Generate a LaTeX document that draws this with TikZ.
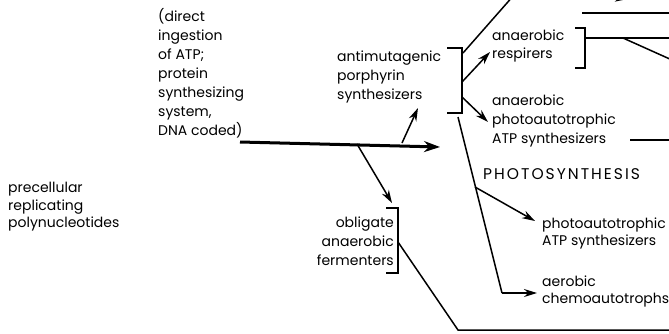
\documentclass[tikz,border=0pt]{standalone}
\usepackage{fontspec}
\setmainfont{Poppins}
\newfontfamily\capsfont[LetterSpace=13]{Poppins}
\usetikzlibrary{arrows.meta}
\tikzset{
  lbl/.style={inner sep=0pt, font=\fontsize{14}{19}\selectfont, align=left},
  lbltight/.style={lbl, font=\fontsize{14}{17.5}\selectfont},
  thin/.style={line width=1.5pt},
  bracketline/.style={line width=1.5pt},
  arr/.style={line width=1.5pt, -{Stealth[length=13pt,width=8pt]}},
  thickarr/.style={line width=3pt, -{Stealth[length=16pt,width=11pt]}},
}
\begin{document}
\begin{tikzpicture}[x=1pt,y=-1pt]
\useasboundingbox (0,0) rectangle (669,333);
\clip (0,0) rectangle (669,333);
% labels
\node[lbl, anchor=west] (ingest) at (158,73) {(direct\\ingestion\\of ATP;\\protein\\synthesizing\\system,\\DNA coded)};
\node[lbltight, anchor=west] (precell) at (8,207) {precellular\\replicating\\polynucleotides};
\node[lbl, anchor=west] (antimut) at (337,77) {antimutagenic\\porphyrin\\synthesizers};
\node[lbl, anchor=west, font=\fontsize{14}{18}\selectfont] (resp) at (492,46) {anaerobic\\respirers};
\node[lbl, anchor=west] (photoatp) at (492,121) {anaerobic\\photoautotrophic\\ATP synthesizers};
\node[lbl, anchor=west, font=\capsfont\fontsize{15.5}{19}\selectfont] (photosyn) at (483,174) {PHOTOSYNTHESIS};
\node[lbl, anchor=east, align=right] (ferm) at (394,241) {obligate\\anaerobic\\fermenters};
\node[lbltight, anchor=west] (photoauto) at (542,233.5) {photoautotrophic\\ATP synthesizers};
\node[lbltight, anchor=west] (aerobic) at (542,291.5) {aerobic\\chemoautotrophs};
% coordinates
\coordinate (mainS) at (240,142);
\coordinate (mainE) at (440,147);
\coordinate (upS) at (402,143);
\coordinate (upE) at (418,108);
\coordinate (dnS) at (357,144);
\coordinate (dnE) at (392,203);
\coordinate (b1a) at (447,48);
\coordinate (b1b) at (462,48);
\coordinate (b1c) at (462,113);
\coordinate (b1d) at (447,113);
\coordinate (b1top) at (463,53);
\coordinate (b1out) at (514,-5);
\coordinate (b1m1) at (462,82);
\coordinate (b1m2) at (462,97);
\coordinate (respTip) at (490,52);
\coordinate (patpTip) at (488,122);
\coordinate (b2a) at (575,28);
\coordinate (b2b) at (585,28);
\coordinate (b2c) at (585,68);
\coordinate (b2d) at (575,68);
\coordinate (b2m) at (585,38);
\coordinate (b2j) at (623,38);
\coordinate (r38) at (672,38);
\coordinate (r60) at (672,60);
\coordinate (h13a) at (582,13);
\coordinate (h13b) at (672,13);
\coordinate (topA) at (590,-5);
\coordinate (topB) at (628,-1);
\coordinate (patpL) at (630,140);
\coordinate (patpR) at (672,140);
\coordinate (b3a) at (386,208);
\coordinate (b3b) at (398,208);
\coordinate (b3c) at (398,273);
\coordinate (b3d) at (386,273);
\coordinate (b3m) at (398,242);
\coordinate (b3low) at (458,330);
\coordinate (b3R) at (672,330);
\coordinate (psS) at (458,117);
\coordinate (psJ) at (475,187);
\coordinate (psB) at (502,293);
\coordinate (psT1) at (535,221);
\coordinate (psT2) at (537,293);
% connectors
\draw[thickarr] (mainS) -- (mainE);
\draw[arr] (upS) -- (upE);
\draw[arr] (dnS) -- (dnE);
\draw[bracketline] (b1a) -- (b1b) -- (b1c) -- (b1d);
\draw[thin] (b1top) -- (b1out);
\draw[arr] (b1m1) -- (respTip);
\draw[arr] (b1m2) -- (patpTip);
\draw[bracketline] (b2a) -- (b2b) -- (b2c) -- (b2d);
\draw[thin] (b2m) -- (r38);
\draw[thin] (b2j) -- (r60);
\draw[thin] (h13a) -- (h13b);
\draw[arr] (topA) -- (topB);
\draw[thin] (patpL) -- (patpR);
\draw[bracketline] (b3a) -- (b3b) -- (b3c) -- (b3d);
\draw[thin] (b3m) -- (b3low) -- (b3R);
\draw[thin] (psS) -- (psB);
\draw[arr] (psB) -- (psT2);
\draw[arr] (psJ) -- (psT1);
\end{tikzpicture}
\end{document}
